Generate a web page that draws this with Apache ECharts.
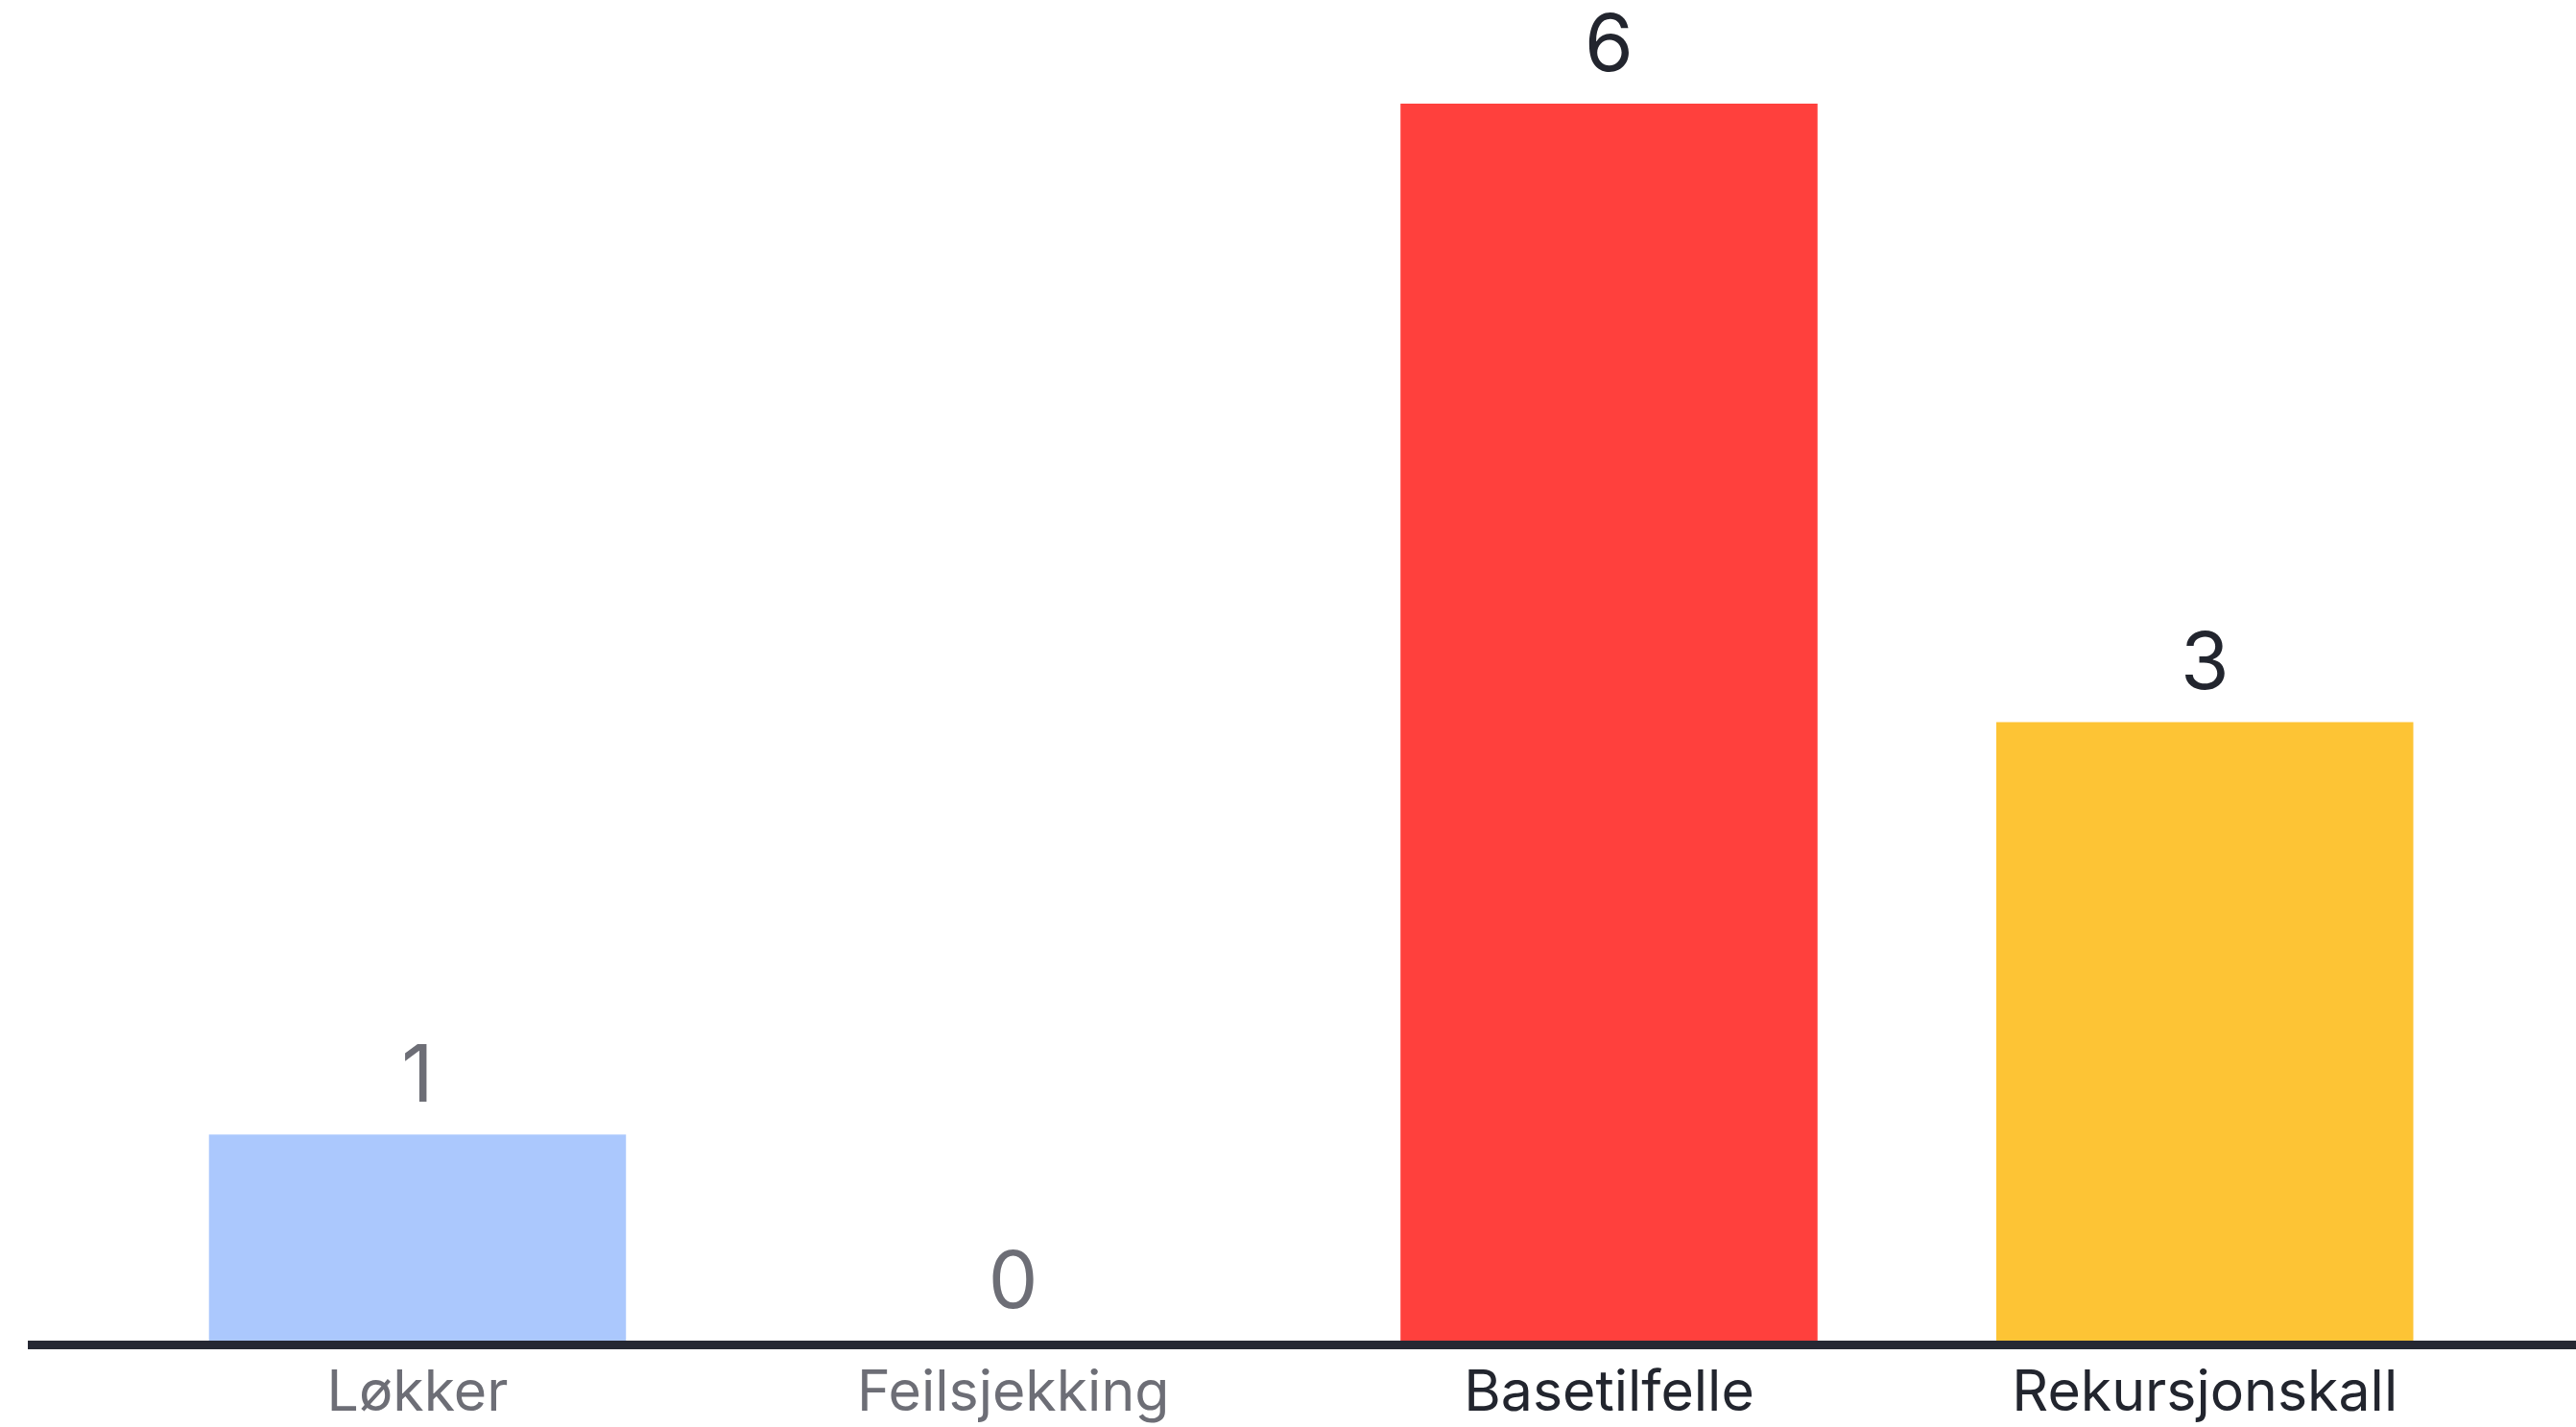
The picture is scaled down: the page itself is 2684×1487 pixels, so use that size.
<!DOCTYPE html>
<html>
<head>
<meta charset="utf-8">
<script src="https://cdn.jsdelivr.net/npm/echarts@6/dist/echarts.min.js"></script>
<style>
  html, body { margin: 0; padding: 0; background: #ffffff; }
  #chart { width: 2684px; height: 1487px; }
</style>
</head>
<body>
<div id="chart"></div>
<script>
// ---- data ----
const categories = ['Løkker', 'Feilsjekking', 'Basetilfelle', 'Rekursjonskall'];
const values = [1, 0, 6, 3];

// ---- styling (not data) ----
const barColors = ['#ABC8FD', '#ABC8FD', '#FF403D', '#FDC435'];
const textColors = ['#6D6E76', '#6D6E76', '#22252E', '#22252E'];
const FONT = 'Inter, "Noto Sans", sans-serif';

const chart = echarts.init(document.getElementById('chart'), null, { renderer: 'canvas' });

const option = {
  animation: false,
  backgroundColor: '#ffffff',
  grid: { left: 124.6, right: 76.4, top: 108, bottom: 90, containLabel: false },
  xAxis: {
    type: 'category',
    data: categories,
    axisLine: { show: false },
    axisTick: { show: false },
    splitLine: { show: false },
    axisLabel: {
      margin: 26,
      fontFamily: FONT,
      fontSize: 59,
      color: function (value, index) { return textColors[index]; }
    }
  },
  yAxis: {
    type: 'value',
    min: 0,
    max: 6,
    show: false,
    splitLine: { show: false }
  },
  series: [{
    type: 'bar',
    barWidth: '70%',
    data: values.map(function (v, i) {
      return {
        value: v,
        itemStyle: { color: barColors[i] },
        label: { color: textColors[i] }
      };
    }),
    label: {
      show: true,
      position: 'top',
      distance: 18,
      fontFamily: FONT,
      fontSize: 82
    },
    z: 2
  }]
};
chart.setOption(option);

// baseline rule extending across the page width
const y0 = chart.convertToPixel({ yAxisIndex: 0 }, 0);
chart.setOption({
  graphic: [{
    type: 'rect',
    shape: { x: 29, y: y0, width: 2684 - 29, height: 9 },
    style: { fill: '#252833' },
    z: 10
  }]
});
</script>
</body>
</html>
